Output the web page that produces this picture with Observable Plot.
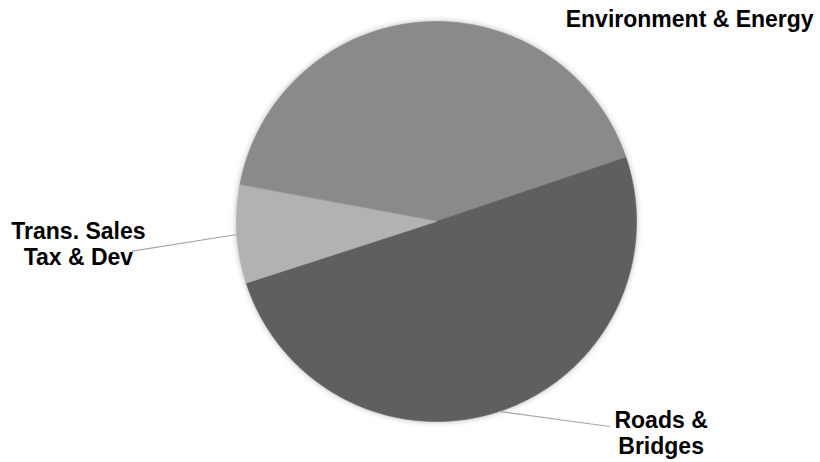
<!DOCTYPE html>
<html>
<head>
<meta charset="utf-8">
<script src="https://cdn.jsdelivr.net/npm/d3@7"></script>
<script src="https://cdn.jsdelivr.net/npm/@observablehq/plot@0.6"></script>
<style>
  html, body { margin: 0; padding: 0; background: #fff; }
  #chart { width: 820px; height: 462px; }
</style>
</head>
<body>
<div id="chart"></div>
<script>
// Budget shares by program area (percent of total)
const categories = ["Environment & Energy", "Roads & Bridges", "Trans. Sales Tax & Dev"];
const shares = [41.9, 50.2, 7.9];
const sliceColors = ["#8a8a8a", "#5f5f5f", "#b2b2b2"];
const labelText = ["Environment & Energy", "Roads &\nBridges", "Trans. Sales\nTax & Dev"];

// Label placement (in pie-radius units, origin at the pie centre) and leader-line ends
const labelLayout = {
  "Environment & Energy": {x: 1.266, y: 1.015, leader: null},
  "Roads & Bridges": {x: 1.123, y: -1.057, leader: [0.865, -1.025]},
  "Trans. Sales Tax & Dev": {x: -1.7905, y: -0.1088, leader: [-1.5215, -0.1485]}
};

const firstSliceAngle = 280.5; // degrees, clockwise from 12 o'clock

const pie = d3.pie().sort(null).value(d => d.value)
  .startAngle(firstSliceAngle * Math.PI / 180)
  .endAngle(firstSliceAngle * Math.PI / 180 + 2 * Math.PI);

const slices = pie(categories.map((name, i) => ({name, value: shares[i], text: labelText[i]})));

// Outline of each wedge: centre, then along the arc
const wedgePoints = slices.flatMap(s => {
  const pts = [{name: s.data.name, x: 0, y: 0}];
  const steps = Math.max(2, Math.ceil((s.endAngle - s.startAngle) / (Math.PI / 360)));
  for (let k = 0; k <= steps; k++) {
    const a = s.startAngle + (s.endAngle - s.startAngle) * k / steps;
    pts.push({name: s.data.name, x: Math.sin(a), y: Math.cos(a)});
  }
  return pts;
});

// Leader lines from the middle of the wedge's rim to the label
const leaders = slices.filter(s => labelLayout[s.data.name].leader).flatMap(s => {
  const mid = (s.startAngle + s.endAngle) / 2;
  const [lx, ly] = labelLayout[s.data.name].leader;
  return [
    {name: s.data.name, x: Math.sin(mid), y: Math.cos(mid)},
    {name: s.data.name, x: lx, y: ly}
  ];
});

const labels = slices.map(s => ({
  text: s.data.text,
  x: labelLayout[s.data.name].x,
  y: labelLayout[s.data.name].y
}));

const chart = Plot.plot({
  width: 820,
  height: 462,
  x: {domain: [-1, 1], range: [236, 636], axis: null},
  y: {domain: [-1, 1], range: [421, 21], axis: null},
  color: {domain: categories, range: sliceColors},
  style: {fontFamily: "'Liberation Sans', Arial, sans-serif", background: "#fff"},
  marks: [
    // soft shadow under the pie
    Plot.dot([{x: 0, y: 0}], {x: "x", y: "y", r: 200, fill: "#000", fillOpacity: 0.3, stroke: null}),
    Plot.line(wedgePoints, {x: "x", y: "y", z: "name", fill: "name", stroke: "name", strokeWidth: 0.6, curve: "linear-closed"}),
    Plot.line(leaders, {x: "x", y: "y", z: "name", stroke: "#a6a6a6", strokeWidth: 1.2}),
    Plot.text(labels, {x: "x", y: "y", text: "text", fontSize: 23, fontWeight: "bold", fill: "#000", lineHeight: 1.13})
  ]
});

const shadow = chart.querySelector('g[aria-label="dot"]');
if (shadow) shadow.style.filter = "blur(3px)";

document.getElementById("chart").appendChild(chart);
</script>
</body>
</html>
